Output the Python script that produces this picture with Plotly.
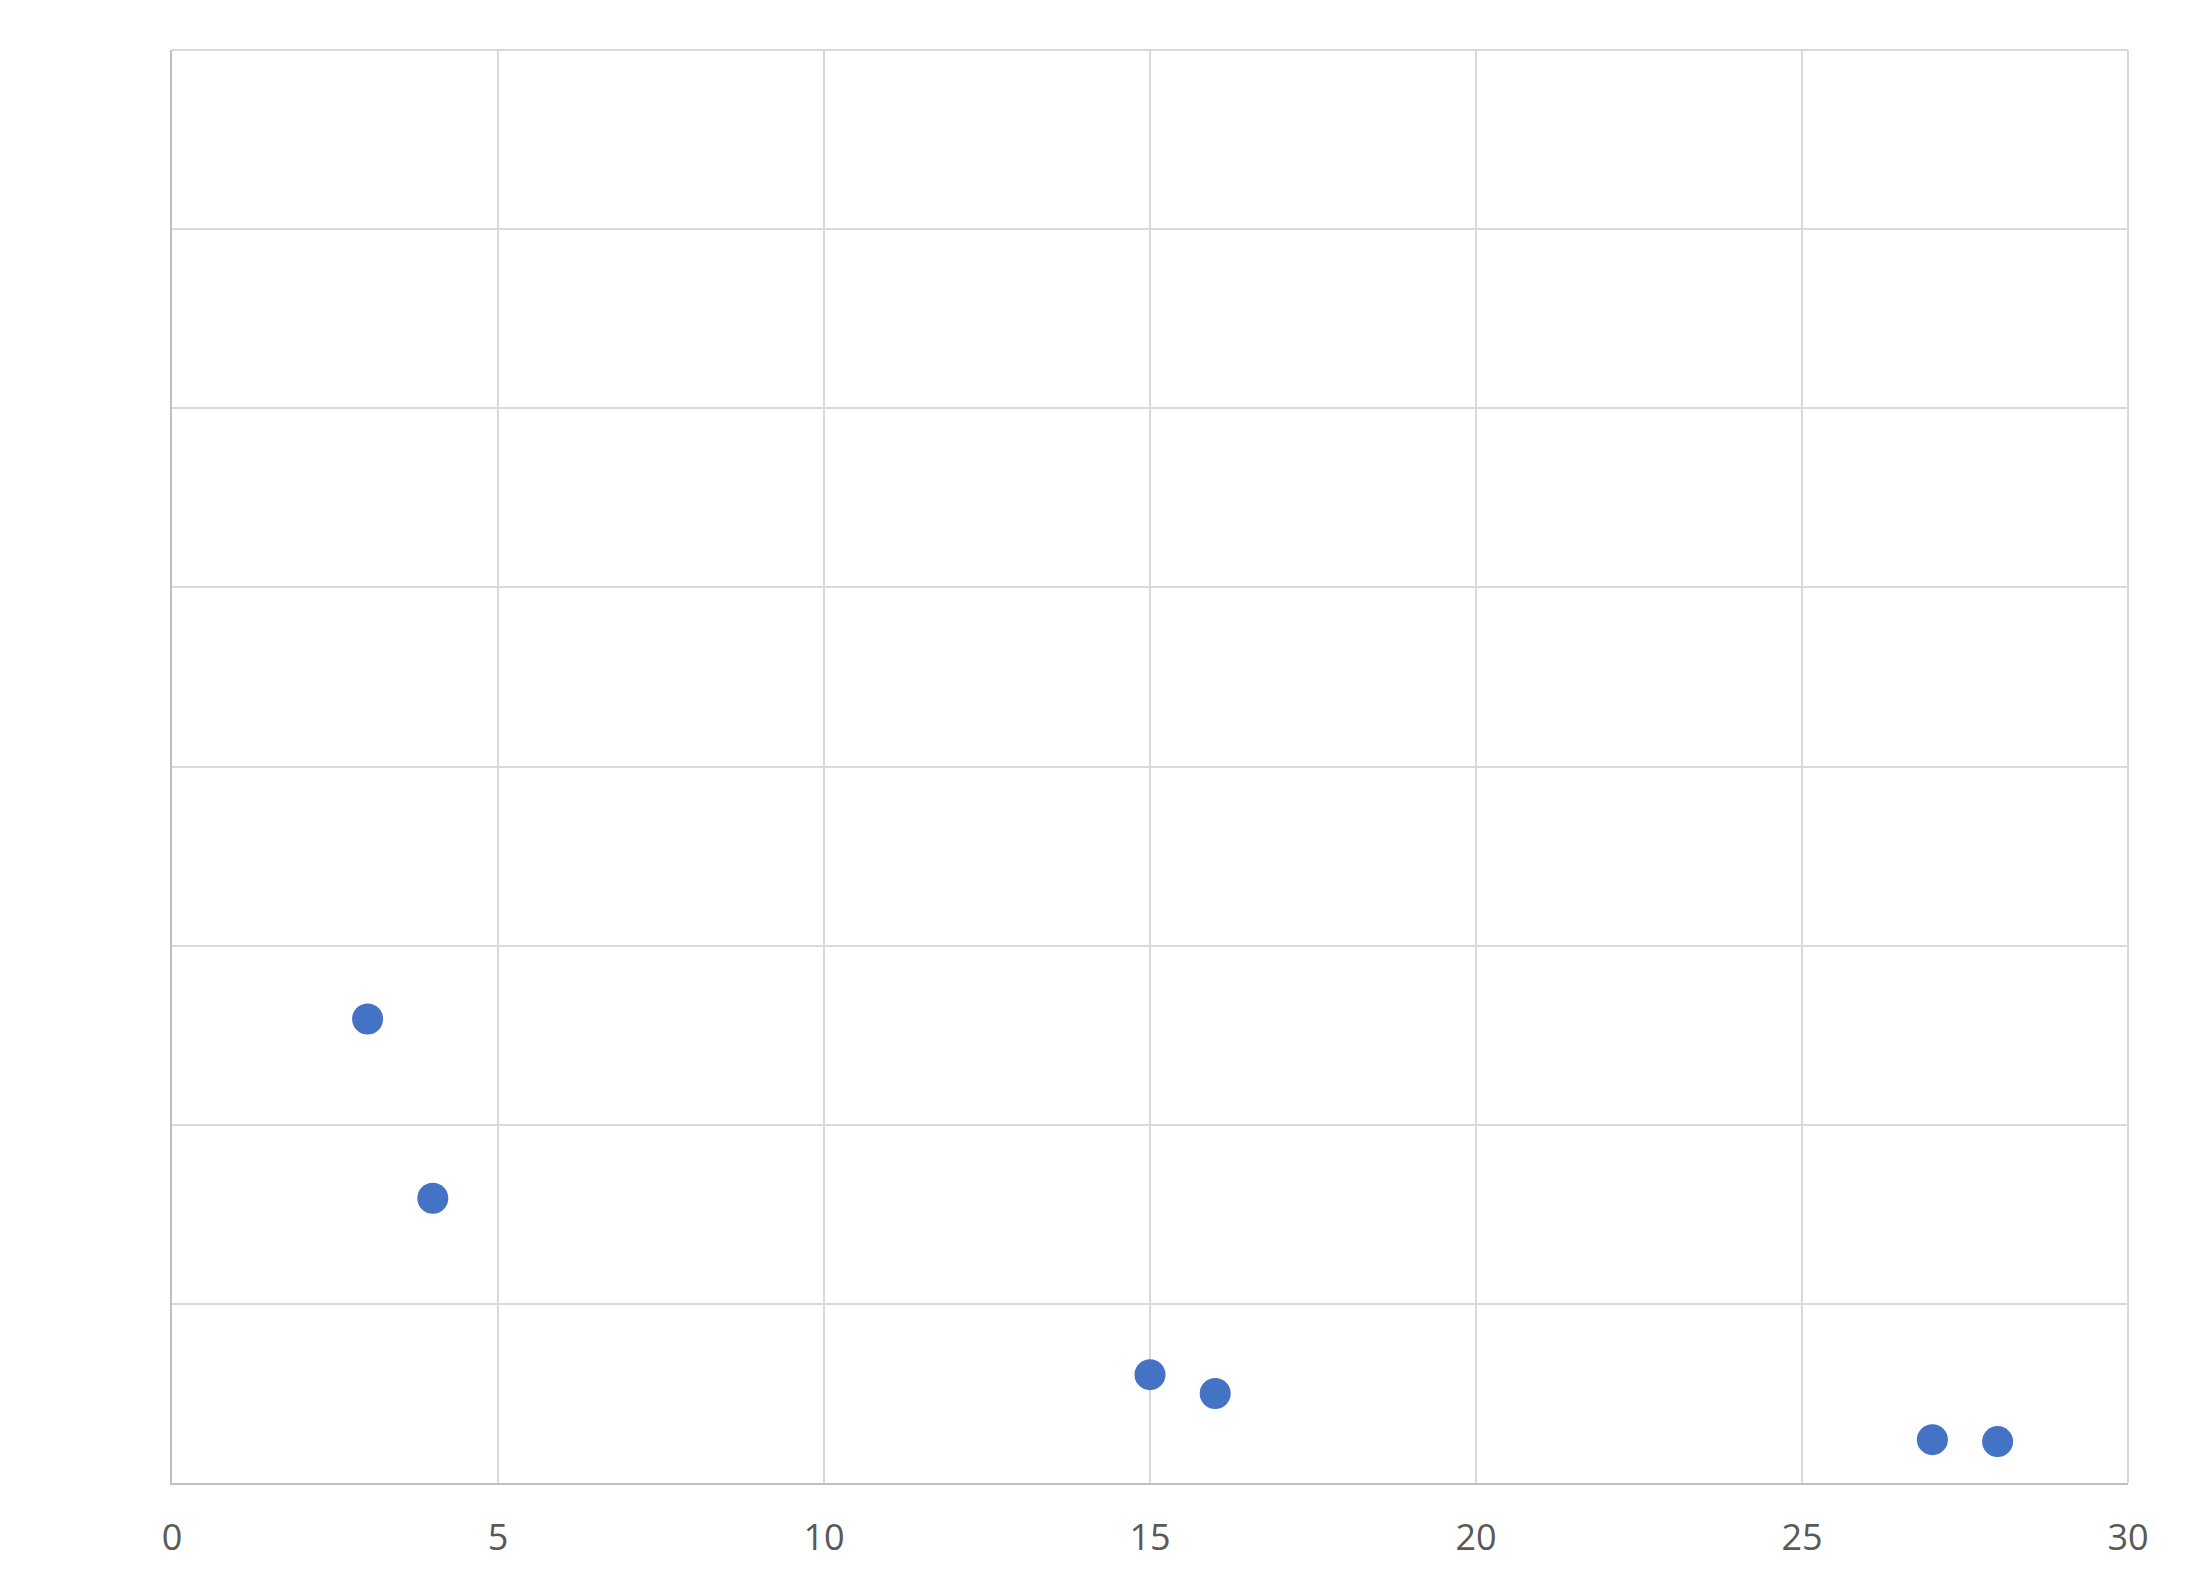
import plotly.graph_objects as go

x_values = [3, 4, 15, 16, 27, 28]
y_values = [2.59, 1.59, 0.605, 0.50, 0.242, 0.231]
x_ticks = [0, 5, 10, 15, 20, 25, 30]

fig = go.Figure()
fig.add_trace(go.Scatter(
    x=x_values, y=y_values, mode="markers",
    marker=dict(size=31, color="#4472C4", line=dict(width=0)),
    showlegend=False,
))

fig.update_layout(
    width=2200, height=1590,
    margin=dict(l=164, r=80, t=42, b=115),
    paper_bgcolor="white", plot_bgcolor="white",
    font=dict(family="Open Sans", size=36, color="#595959"),
    shapes=[
        dict(type="line", xref="paper", yref="paper", x0=0, x1=1, y0=1, y1=1,
             line=dict(color="#D9D9D9", width=2), layer="below"),
        dict(type="line", xref="paper", yref="paper", x0=1, x1=1, y0=0, y1=1,
             line=dict(color="#D9D9D9", width=2), layer="below"),
    ],
)
fig.update_xaxes(
    range=[0, 30], tickvals=x_ticks, ticktext=[str(t) for t in x_ticks],
    showgrid=True, gridcolor="#D9D9D9", gridwidth=2,
    showline=True, linecolor="#BFBFBF", linewidth=2,
    zeroline=False, ticks="", ticklabelstandoff=22,
)
fig.update_yaxes(
    range=[0, 8], dtick=1, tick0=0,
    showgrid=True, gridcolor="#D9D9D9", gridwidth=2,
    showline=True, linecolor="#BFBFBF", linewidth=2,
    zeroline=False, showticklabels=False, ticks="",
)

fig.write_html("out.html")
